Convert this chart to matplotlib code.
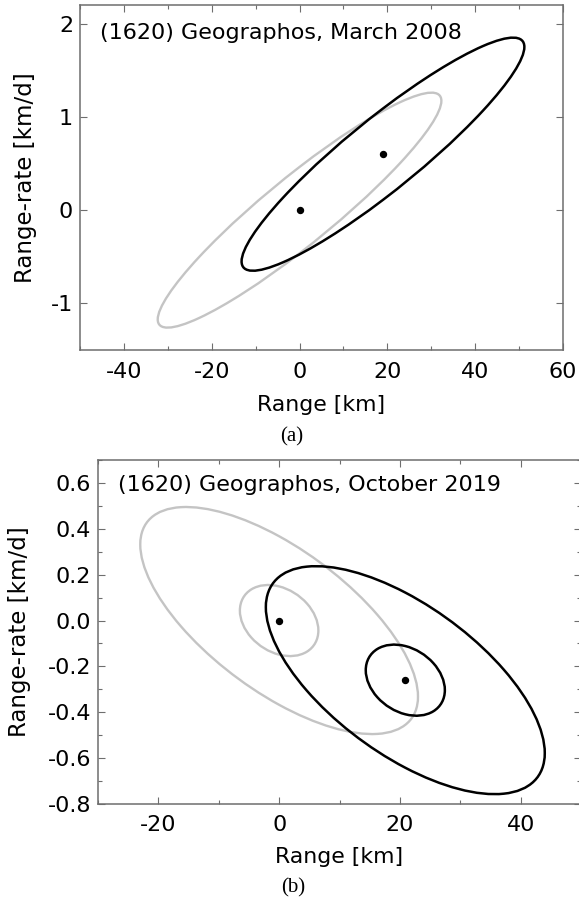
import numpy as np
import matplotlib
matplotlib.use("Agg")
import matplotlib.pyplot as plt
from matplotlib.patches import Ellipse
from matplotlib.ticker import MultipleLocator, FormatStrFormatter

plt.rcParams['font.family'] = ['DejaVu Sans']
plt.rcParams['axes.unicode_minus'] = False

# uncertainty ellipses: centre x, centre y, half-extent in x, half-extent in y, correlation
# panel (a) March 2008
a_titles = "(1620) Geographos, March 2008"
a_gray = [(0.0, 0.0, 32.3, 1.26, 0.93)]
a_black = [(19.0, 0.6, 32.2, 1.25, 0.92)]
a_dots_x = [0.0, 19.0]
a_dots_y = [0.0, 0.6]

# panel (b) October 2019
b_titles = "(1620) Geographos, October 2019"
b_gray = [(0.0, 0.0, 23.0, 0.495, -0.67), (0.0, 0.0, 6.5, 0.155, -0.28)]
b_black = [(20.9, -0.26, 23.1, 0.497, -0.64), (20.9, -0.26, 6.55, 0.155, -0.28)]
b_dots_x = [0.0, 20.9]
b_dots_y = [0.0, -0.26]

SPINE = '#6e6e6e'
GRAY = '#c4c4c4'


def add_ellipse(ax, cx, cy, sx, sy, rho, color, lw):
    cov = np.array([[sx**2, rho*sx*sy], [rho*sx*sy, sy**2]])
    vals, vecs = np.linalg.eigh(cov)
    angle = np.degrees(np.arctan2(vecs[1, 1], vecs[0, 1]))
    e = Ellipse((cx, cy), 2*np.sqrt(vals[1]), 2*np.sqrt(vals[0]), angle=angle,
                fill=False, edgecolor=color, lw=lw)
    ax.add_patch(e)


def style(ax):
    for s in ax.spines.values():
        s.set_color(SPINE)
        s.set_linewidth(1.1)
    ax.tick_params(which='both', direction='in', top=True, right=True,
                   color=SPINE, width=0.8, labelsize=16)
    ax.tick_params(which='major', length=5)
    ax.tick_params(which='minor', length=3)


fig = plt.figure(figsize=(5.79, 9.0), dpi=100)

# ---- panel (a)
ax1 = fig.add_axes([80/579, 1-350/900, 483/579, 345/900])
for p in a_gray:
    add_ellipse(ax1, *p, GRAY, 1.7)
for p in a_black:
    add_ellipse(ax1, *p, 'black', 1.8)
ax1.plot(a_dots_x, a_dots_y, 'o', color='black', ms=4.3)
ax1.set_xlim(-50, 60)
ax1.set_ylim(-1.5, 2.2)
ax1.xaxis.set_major_locator(MultipleLocator(20))
ax1.xaxis.set_minor_locator(MultipleLocator(10))
ax1.yaxis.set_major_locator(MultipleLocator(1))
style(ax1)
ax1.tick_params(axis='x', pad=9)
ax1.tick_params(axis='y', pad=5)
ax1.text(0.041, 0.92, a_titles, transform=ax1.transAxes, fontsize=16,
         ha='left', va='center')
ax1.set_xlabel('Range [km]', fontsize=15.8, va='center')
ax1.xaxis.set_label_coords(0.5, -0.159)
ax1.set_ylabel('Range-rate [km/d]', fontsize=16.5, va='center')
ax1.yaxis.set_label_coords(-0.113, 0.5)
fig.text(292/579, 1-437/900, '(a)', family='Liberation Serif', fontsize=15,
         ha='center', va='center')

# ---- panel (b)
ax2 = fig.add_axes([98/579, 1-804/900, 483/579, 344/900])
for p in b_gray:
    add_ellipse(ax2, *p, GRAY, 1.7)
for p in b_black:
    add_ellipse(ax2, *p, 'black', 1.8)
ax2.plot(b_dots_x, b_dots_y, 'o', color='black', ms=4.3)
ax2.set_xlim(-30, 50)
ax2.set_ylim(-0.8, 0.7)
ax2.xaxis.set_major_locator(MultipleLocator(20))
ax2.xaxis.set_minor_locator(MultipleLocator(10))
ax2.yaxis.set_major_locator(MultipleLocator(0.2))
ax2.yaxis.set_minor_locator(MultipleLocator(0.1))
ax2.yaxis.set_major_formatter(FormatStrFormatter('%.1f'))
style(ax2)
ax2.tick_params(axis='x', pad=8)
ax2.tick_params(axis='y', pad=5)
ax2.text(0.041, 0.927, b_titles, transform=ax2.transAxes, fontsize=16,
         ha='left', va='center')
ax2.set_xlabel('Range [km]', fontsize=15.8, va='center')
ax2.xaxis.set_label_coords(0.5, -0.154)
ax2.set_ylabel('Range-rate [km/d]', fontsize=16.5, va='center')
ax2.yaxis.set_label_coords(-0.162, 0.5)
fig.text(293/579, 1-888/900, '(b)', family='Liberation Serif', fontsize=15,
         ha='center', va='center')

fig.savefig('out.png', dpi=100)
